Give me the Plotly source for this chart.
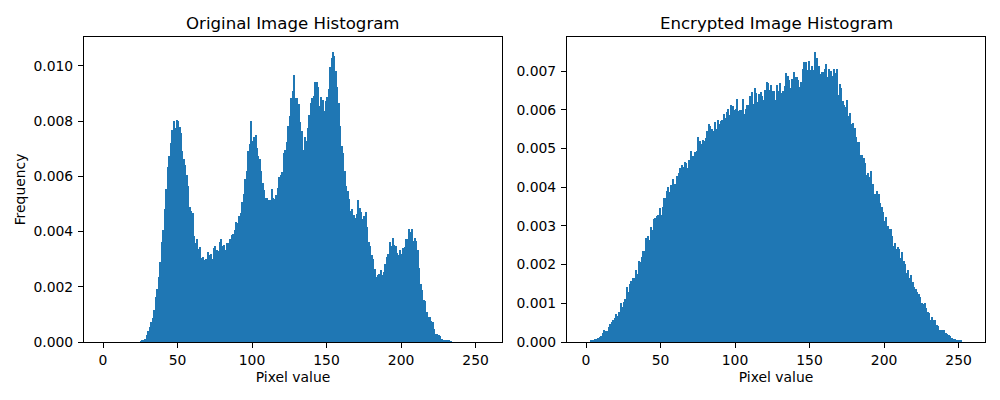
import plotly.graph_objects as go

# Histogram densities per pixel value bin, in units of 1e-5
original_e5 = [0]*25 + [
 2,4,8,11,25,40,54,72,88,116,163,192,236,290,362,406,482,554,634,674,721,768,801,775,804,
 801,779,757,692,663,641,605,565,489,475,467,384,359,373,337,344,304,308,297,301,326,315,319,301,341,
 348,333,330,362,373,348,351,333,359,359,373,388,391,406,435,431,457,467,507,536,591,620,692,717,801,
 728,743,750,703,674,663,620,576,551,522,521,514,514,554,522,518,533,558,598,605,616,685,696,725,783,
 819,884,909,967,884,884,862,797,764,696,743,728,775,822,866,884,891,942,942,924,855,888,877,837,873,
 888,917,996,1029,1051,1036,982,924,866,783,710,685,620,565,547,518,475,482,460,449,464,514,485,471,446,
 457,471,417,362,348,315,301,264,236,243,246,261,243,254,283,308,319,362,348,377,351,348,322,315,333,
 319,341,344,373,373,409,399,409,366,377,366,333,268,210,188,152,149,109,91,91,76,72,47,29,29,
 25,22,11,7,4,4,4,4,1] + [0]*22

encrypted_e5 = [0]*3 + [
 3,4,6,7,9,10,13,15,23,31,28,28,39,46,52,57,62,72,67,77,101,90,103,111,142,129,150,158,165,165,186,176,209,207,220,235,235,
 269,274,263,297,289,318,320,325,328,346,328,349,372,372,390,400,387,406,421,408,408,429,437,449,457,452,465,462,449,470,493,480,480,491,493,
 530,519,511,522,519,527,545,563,558,550,545,568,550,573,563,571,573,589,579,594,602,586,612,610,599,602,628,597,599,599,628,589,602,612,612,
 635,646,615,656,643,620,641,646,635,625,651,672,669,651,664,648,648,625,664,648,669,643,648,661,695,687,677,656,679,697,684,684,677,659,672,
 705,723,723,703,726,703,713,703,749,713,734,713,692,697,697,705,718,684,705,700,687,705,695,705,638,666,656,623,612,607,625,584,592,563,566,
 553,530,517,517,483,483,475,462,431,437,426,442,408,382,382,390,382,359,349,336,313,323,300,292,292,274,248,256,240,245,240,217,232,209,201,
 178,186,165,173,155,142,137,129,124,116,101,98,101,88,77,75,57,65,57,57,44,41,31,31,31,31,23,21,18,15,10,8,8,5,3,3,3] + [0]*4

x_ticks = [0, 50, 100, 150, 200, 250]
titles = ["Original Image Histogram", "Encrypted Image Histogram"]
x_label = "Pixel value"
y_label = "Frequency"
original_ticks = [0, 0.002, 0.004, 0.006, 0.008, 0.010]
encrypted_ticks = [0, 0.001, 0.002, 0.003, 0.004, 0.005, 0.006, 0.007]
BLUE = "#1f77b4"

centers = [i + 0.5 for i in range(256)]
fig = go.Figure()
for vals, xa, ya in ((original_e5, "x", "y"), (encrypted_e5, "x2", "y2")):
    vals = (vals + [0]*256)[:256]
    fig.add_trace(go.Bar(x=centers, y=[v/1e5 for v in vals], width=1, xaxis=xa, yaxis=ya,
                         marker=dict(color=BLUE, line=dict(width=0)), showlegend=False))

font = dict(family="DejaVu Sans", size=13.9, color="black")
common = dict(showgrid=False, zeroline=False, showline=True, mirror=True, linecolor="black", linewidth=1.1,
              ticks="outside", ticklen=5, tickwidth=1.1, tickcolor="black", tickfont=font, automargin=False)
xaxis = dict(common, range=[-12.75, 267.75], tickvals=x_ticks, title=dict(text=x_label, font=font, standoff=5))
yd = [0.145, 0.9075]
fig.update_layout(
    width=1000, height=400, margin=dict(l=0, r=0, t=0, b=0), paper_bgcolor="white", plot_bgcolor="white",
    bargap=0, font=font,
    xaxis=dict(xaxis, domain=[0.084, 0.502], anchor="y"),
    xaxis2=dict(xaxis, domain=[0.567, 0.985], anchor="y2"),
    yaxis=dict(common, domain=yd, range=[0, 0.01105], anchor="x", tickvals=original_ticks, ticklabelstandoff=2,
               tickformat=".3f", title=dict(text=y_label, font=font, standoff=4)),
    yaxis2=dict(common, domain=yd, range=[0, 0.00788], anchor="x2", tickvals=encrypted_ticks, ticklabelstandoff=2, tickformat=".3f"),
    annotations=[dict(text=t, x=xc, y=0.9075, xref="paper", yref="paper", yshift=2, xanchor="center", yanchor="bottom",
                      showarrow=False, font=dict(family="DejaVu Sans", size=16.6, color="black"))
                 for t, xc in zip(titles, (0.293, 0.776))],
)
fig.write_html("out.html", config={"displayModeBar": False}, post_script="document.body.style.margin='0';")
